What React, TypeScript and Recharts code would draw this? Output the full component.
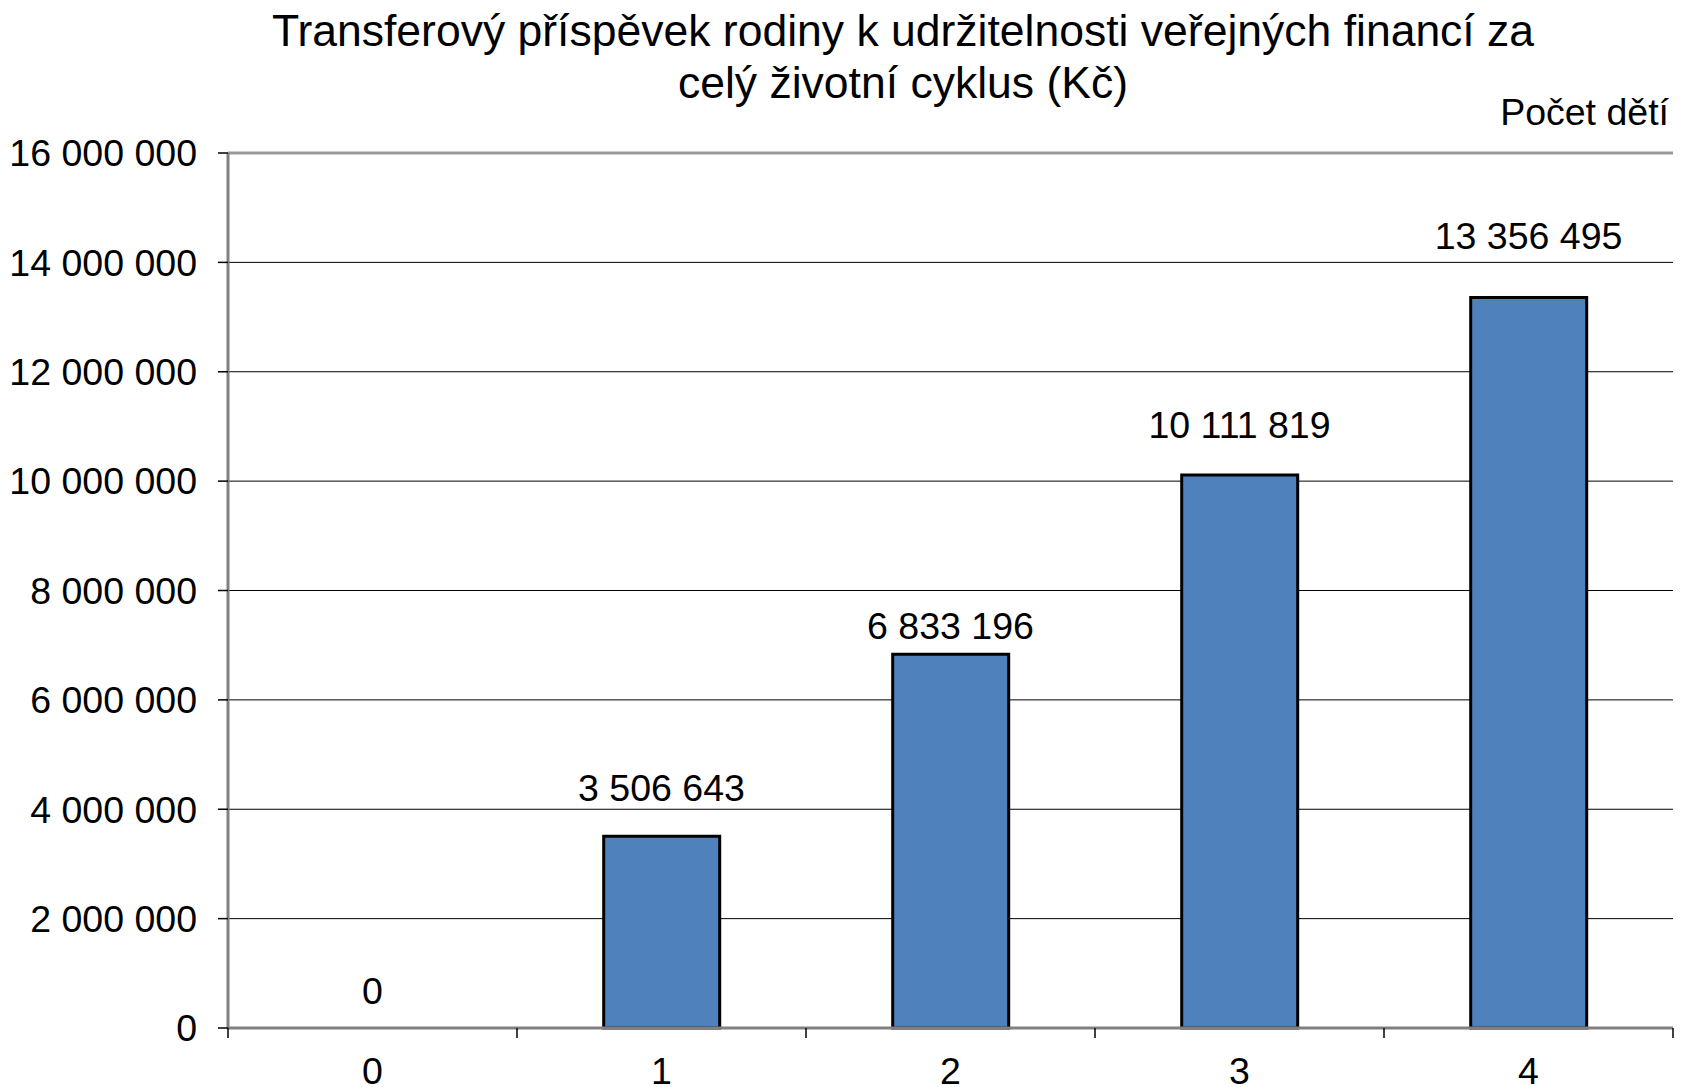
import { ComposedChart, Bar, Line, CartesianGrid, XAxis, YAxis, ReferenceLine, LabelList } from 'recharts';

const pocetDeti = ['0', '1', '2', '3', '4'];
const prispevek = [0, 3506643, 6833196, 10111819, 13356495];
const yTicks = [0, 2000000, 4000000, 6000000, 8000000, 10000000, 12000000, 14000000, 16000000];

const data = pocetDeti.map((k, i) => ({ name: k, value: prispevek[i] }));

// chart layout
const W = 1686;
const H = 1087;
const M = { top: 153, right: 13, bottom: 0, left: 0 };
const X_H = 59;
const Y_W = 228;
const FONT = '"Liberation Sans", Arial, sans-serif';
const FS = 37.5;
const band = (W - M.right - Y_W) / pocetDeti.length;

// labels were moved by hand in the original, lift above bar top
const labelLift = [37, 48, 28, 50, 62];

const fmt = (v: number) => String(v).replace(/\B(?=(\d{3})+(?!\d))/g, ' ');

const XTick = (props: any) => {
    const { x, y, payload, index } = props;
    const left = x - band / 2;
    return (
        <g>
            <line x1={left} x2={left} y1={y} y2={y + 10} stroke="#000" strokeWidth={1.5} />
            {index === pocetDeti.length - 1 && (
                <line x1={x + band / 2} x2={x + band / 2} y1={y} y2={y + 10} stroke="#000" strokeWidth={1.5} />
            )}
            <text x={x} y={y + 43} textAnchor="middle" dominantBaseline="central" fontSize={FS} fontFamily={FONT} fill="#000">
                {payload.value}
            </text>
        </g>
    );
};

const renderLabel = (props: any) => {
    const { x, y, value } = props;
    const i = prispevek.indexOf(value);
    return (
        <text x={x} y={y - labelLift[i]} textAnchor="middle" dominantBaseline="central" fontSize={FS} fontFamily={FONT} fill="#000">
            {fmt(value)}
        </text>
    );
};

export default function App() {
    return (
        <div style={{ position: 'absolute', left: 0, top: 0, width: W, height: H, background: '#fff' }}>
            <ComposedChart width={W} height={H} data={data} margin={M} barCategoryGap="30%">
                <text x={903} y={30} textAnchor="middle" dominantBaseline="central" fontSize={44.5} fontFamily={FONT} fill="#000">
                    Transferový příspěvek rodiny k udržitelnosti veřejných financí za
                </text>
                <text x={903} y={82} textAnchor="middle" dominantBaseline="central" fontSize={44.5} fontFamily={FONT} fill="#000">
                    celý životní cyklus (Kč)
                </text>
                <text x={1669} y={112} textAnchor="end" dominantBaseline="central" fontSize={FS} fontFamily={FONT} fill="#000">
                    Počet dětí
                </text>
                <CartesianGrid vertical={false} stroke="#000" strokeWidth={1} />
                <XAxis
                    dataKey="name"
                    tickLine={false}
                    tickSize={0}
                    tickMargin={0}
                    height={X_H}
                    axisLine={{ stroke: '#808080', strokeWidth: 3 }}
                    tick={<XTick />}
                    interval={0}
                />
                <YAxis
                    width={Y_W}
                    domain={[0, 16000000]}
                    ticks={yTicks}
                    interval={0}
                    tickFormatter={fmt}
                    tickSize={10}
                    tickMargin={21}
                    tickLine={{ stroke: '#000', strokeWidth: 1.5 }}
                    axisLine={{ stroke: '#808080', strokeWidth: 3 }}
                    tick={{ fontSize: FS, fontFamily: FONT, fill: '#000' }}
                />
                <YAxis yAxisId="r" orientation="right" width={0} tick={false} tickLine={false} axisLine={{ stroke: '#999', strokeWidth: 3 }} />
                <ReferenceLine y={16000000} stroke="#999" strokeWidth={3} />
                <Bar dataKey="value" fill="#4F81BD" stroke="#000" strokeWidth={3} isAnimationActive={false} />
                <Line dataKey="value" stroke="none" dot={false} activeDot={false} isAnimationActive={false}>
                    <LabelList dataKey="value" content={renderLabel} />
                </Line>
            </ComposedChart>
        </div>
    );
}
